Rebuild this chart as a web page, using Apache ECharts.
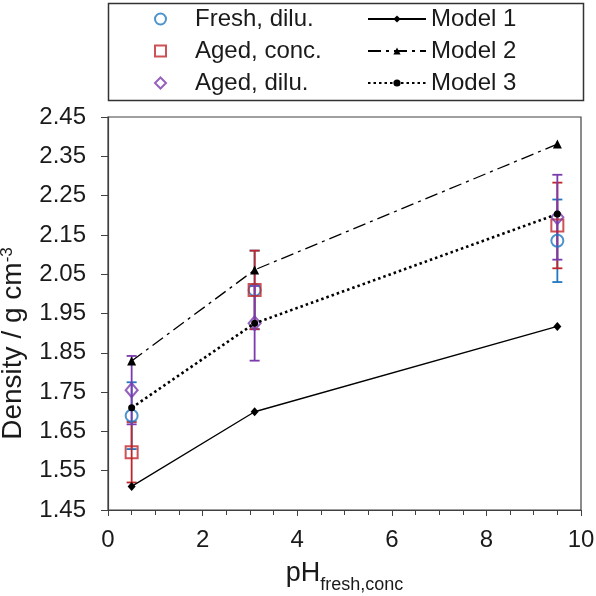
<!DOCTYPE html>
<html>
<head>
<meta charset="utf-8">
<script src="https://cdn.jsdelivr.net/npm/echarts@6/dist/echarts.min.js"></script>
<style>html,body{margin:0;padding:0;background:#fff;}#c{width:596px;height:596px;}</style>
</head>
<body>
<div id="c"></div>
<script>
// ---- data ----
const xPts = [0.5, 3.1, 9.5];
const freshDilu = [1.690, 2.010, 2.135];
const freshDiluErr = [0.085, 0.100, 0.105];
const agedConc = [1.597, 2.010, 2.174];
const agedConcErr = [0.077, 0.100, 0.109];
const agedDilu = [1.755, 1.925, 2.195];
const agedDiluErr = [0.087, 0.095, 0.108];
const model1 = [1.510, 1.700, 1.917];
const model2 = [1.829, 2.061, 2.381];
const model3 = [1.710, 1.925, 2.203];
const yTickLabels = ['1.45','1.55','1.65','1.75','1.85','1.95','2.05','2.15','2.25','2.35','2.45'];
const xTickLabels = ['0','2','4','6','8','10'];
const Y0 = 1.45; // y-axis origin (axis counts ticks from 0 after shifting)

const FONT = 'Liberation Sans, Arial, sans-serif';
const TXT = '#1a1a1a';
const C_BLUE = '#1F78C1', C_RED = '#C0252A', C_PURPLE = '#7B3BAE';

function pts(vals) { return xPts.map((x, i) => [x, vals[i] - Y0]); }

function errSeries(vals, errs, color) {
  return {
    type: 'custom',
    name: '_err',
    encode: { x: 0, y: [1, 2] },
    silent: true,
    renderItem: function (params, api) {
      const x = api.value(0), lo = api.value(1), hi = api.value(2);
      const a = api.coord([x, lo]), b = api.coord([x, hi]);
      const w = 5;
      const st = { stroke: color, lineWidth: 1.8 };
      return {
        type: 'group',
        children: [
          { type: 'line', shape: { x1: a[0], y1: a[1], x2: b[0], y2: b[1] }, style: st },
          { type: 'line', shape: { x1: a[0] - w, y1: a[1], x2: a[0] + w, y2: a[1] }, style: st },
          { type: 'line', shape: { x1: b[0] - w, y1: b[1], x2: b[0] + w, y2: b[1] }, style: st }
        ]
      };
    },
    data: xPts.map((x, i) => [x, vals[i] - errs[i] - Y0, vals[i] + errs[i] - Y0])
  };
}

function scatter(name, vals, symbol, size, color) {
  return {
    type: 'scatter', name: name, data: pts(vals), symbol: symbol, symbolSize: size,
    itemStyle: { color: 'rgba(0,0,0,0)', borderColor: color, borderWidth: 2 }
  };
}

function model(name, vals, symbol, size, lineType, width) {
  return {
    type: 'line', name: name, data: pts(vals), symbol: symbol, symbolSize: size,
    showSymbol: true,
    itemStyle: { color: '#000' },
    lineStyle: { color: '#000', width: width, type: lineType }
  };
}

const chart = echarts.init(document.getElementById('c'), null, { renderer: 'canvas' });
chart.setOption({
  animation: false,
  textStyle: { fontFamily: FONT },
  grid: { left: 108, right: 15, top: 117, bottom: 86, containLabel: false, outerBoundsMode: 'none',
    show: true, borderColor: '#404040', borderWidth: 1.2, backgroundColor: 'transparent' },
  graphic: [{
    type: 'rect', left: 106, top: 1, shape: { width: 475, height: 97 },
    style: { fill: 'none', stroke: '#333', lineWidth: 1.5 }
  }],
  legend: [{
    data: ['Fresh, dilu.', 'Aged, conc.', 'Aged, dilu.'],
    orient: 'vertical', left: 154, top: 7, padding: 0,
    itemWidth: 11, itemHeight: 11, itemGap: 8,
    textStyle: { fontSize: 24, color: TXT, fontFamily: FONT, padding: [0, 0, 0, 24] }
  }, {
    data: ['Model 1', 'Model 2', 'Model 3'],
    orient: 'vertical', left: 367, top: 7, padding: 0,
    itemWidth: 58, itemHeight: 9, itemGap: 8,
    textStyle: { fontSize: 24, color: TXT, fontFamily: FONT }
  }],
  xAxis: {
    type: 'value', min: 0, max: 10, interval: 2,
    name: 'pH{sub|fresh,conc}', nameLocation: 'middle', nameGap: 49,
    nameTextStyle: {
      fontSize: 27, color: TXT, fontFamily: FONT, lineHeight: 30,
      rich: { sub: { fontSize: 18, color: TXT, fontFamily: FONT, verticalAlign: 'bottom', lineHeight: 18, padding: [0, 0, -5, 0] } }
    },
    axisLine: { lineStyle: { color: '#404040', width: 1.2 } },
    axisTick: { show: true, length: 6, lineStyle: { color: '#404040' } },
    minorTick: { show: true, splitNumber: 4, length: 5, lineStyle: { color: '#404040' } },
    splitLine: { show: false },
    axisLabel: { fontSize: 24, color: TXT, margin: 18, fontFamily: FONT,
      formatter: v => xTickLabels[Math.round(v / 2)] }
  },
  yAxis: {
    type: 'value', min: 0, max: 1.0, interval: 0.1,
    name: 'Density / g cm{sup|-3}', nameLocation: 'middle', nameGap: 69,
    nameTextStyle: {
      fontSize: 28, color: TXT, fontFamily: FONT, lineHeight: 30, padding: [0, 60, 0, 0],
      rich: { sup: { fontSize: 17, color: TXT, fontFamily: FONT, verticalAlign: 'top', lineHeight: 17 } }
    },
    axisLine: { show: true, lineStyle: { color: '#404040', width: 1.2 } },
    axisTick: { show: true, length: 7, lineStyle: { color: '#404040' } },
    splitLine: { show: false },
    axisLabel: { fontSize: 24, color: TXT, margin: 22, fontFamily: FONT,
      formatter: v => yTickLabels[Math.round(v * 10)] }
  },
  series: [
    errSeries(freshDilu, freshDiluErr, C_BLUE),
    scatter('Fresh, dilu.', freshDilu, 'circle', 12, C_BLUE),
    errSeries(agedConc, agedConcErr, C_RED),
    scatter('Aged, conc.', agedConc, 'rect', 12, C_RED),
    errSeries(agedDilu, agedDiluErr, C_PURPLE),
    scatter('Aged, dilu.', agedDilu, 'diamond', [12, 14], C_PURPLE),
    model('Model 1', model1, 'diamond', [8, 9], 'solid', 1.3),
    model('Model 2', model2, 'triangle', 9, [13, 5, 3, 5], 1.3),
    model('Model 3', model3, 'circle', 7, [2.5, 3], 2.6)
  ]
});
</script>
</body>
</html>
